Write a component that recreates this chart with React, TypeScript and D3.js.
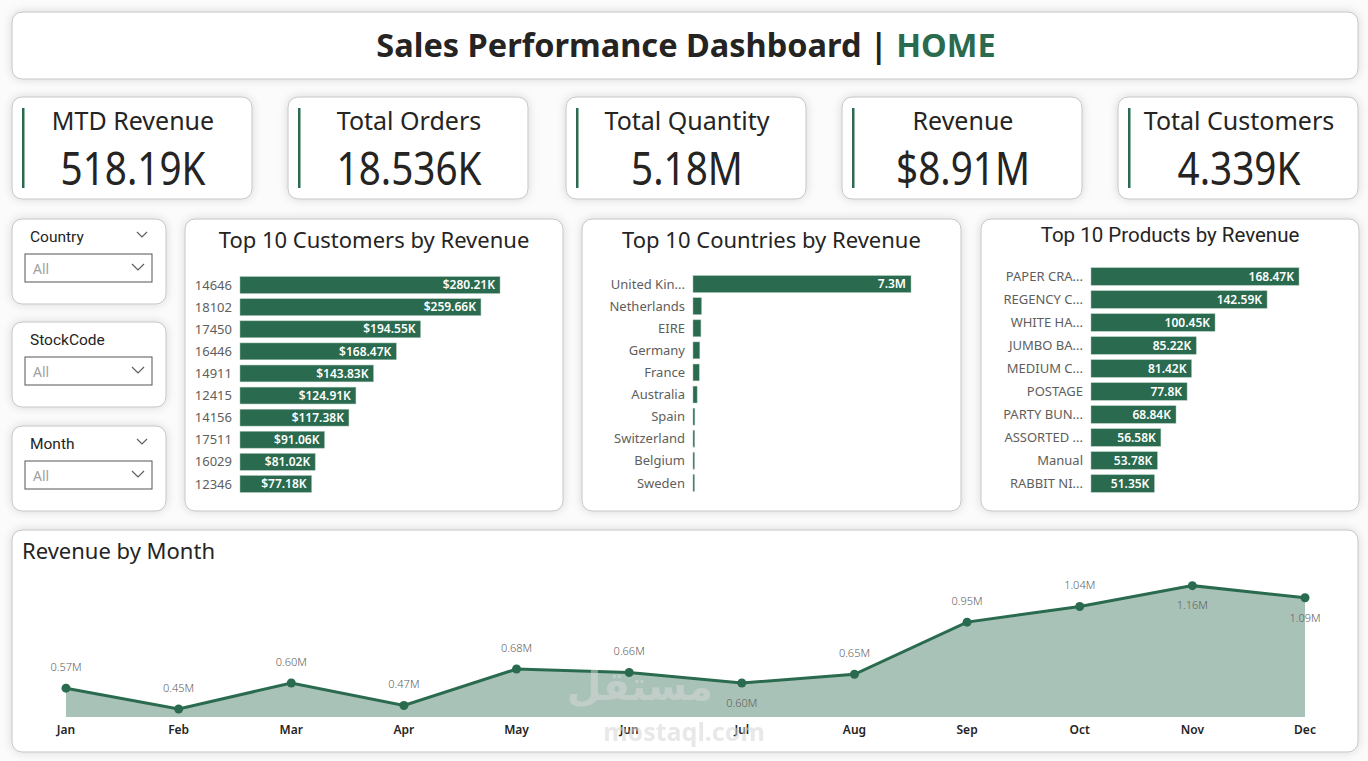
import * as d3 from "d3";

// ---- data ----
const kpiTitles = ["MTD Revenue", "Total Orders", "Total Quantity", "Revenue", "Total Customers"];
const kpiValues = ["518.19K", "18.536K", "5.18M", "$8.91M", "4.339K"];

const slicers = ["Country", "StockCode", "Month"];

const customerIds = ["14646", "18102", "17450", "16446", "14911", "12415", "14156", "17511", "16029", "12346"];
const customerRevenue = [280.21, 259.66, 194.55, 168.47, 143.83, 124.91, 117.38, 91.06, 81.02, 77.18]; // K

const countryNames = ["United Kin...", "Netherlands", "EIRE", "Germany", "France", "Australia", "Spain", "Switzerland", "Belgium", "Sweden"];
const countryRevenue = [7.31, 0.285, 0.265, 0.228, 0.209, 0.138, 0.061, 0.057, 0.041, 0.038]; // M

const productNames = ["PAPER CRA...", "REGENCY C...", "WHITE HA...", "JUMBO BA...", "MEDIUM C...", "POSTAGE", "PARTY BUN...", "ASSORTED ...", "Manual", "RABBIT NI..."];
const productRevenue = [168.47, 142.59, 100.45, 85.22, 81.42, 77.8, 68.84, 56.58, 53.78, 51.35]; // K

const months = ["Jan", "Feb", "Mar", "Apr", "May", "Jun", "Jul", "Aug", "Sep", "Oct", "Nov", "Dec"];
const monthRevenue = [0.57, 0.45, 0.6, 0.47, 0.68, 0.66, 0.6, 0.65, 0.95, 1.04, 1.16, 1.09]; // M
const labelsBelow = new Set(["Jul", "Nov", "Dec"]);

const GREEN = "#2a6b4f";
const TEXT = "#252423";
const GREY = "#605e5c";
const FONT = "'Noto Sans', 'Open Sans', sans-serif";
const DIN = "Roboto, 'Noto Sans', sans-serif";

function Card({ x, y, w, h }: { x: number; y: number; w: number; h: number }) {
  return (
    <rect x={x} y={y} width={w} height={h} rx={10} fill="#fff" stroke="#c4c4c4" strokeWidth={1} filter="url(#shadow)" />
  );
}

function BarChart(props: {
  x: number; y: number; w: number; h: number; title: string; titleFont: string; titleSize: number; titleY: number;
  names: string[]; values: number[]; fmt: (v: number) => string;
  barX0: number; barX1: number; bandTop: number; bandBottom: number;
}) {
  const { names, values } = props;
  const xs = d3.scaleLinear().domain([0, d3.max(values) ?? 1]).range([props.barX0, props.barX1]);
  const ys = d3.scaleBand<string>().domain(names).range([props.bandTop, props.bandBottom]).paddingInner(0.24).paddingOuter(0.12);
  return (
    <g>
      <Card x={props.x} y={props.y} w={props.w} h={props.h} />
      <text x={props.x + props.w / 2} y={props.titleY} textAnchor="middle" fontFamily={props.titleFont} fontSize={props.titleSize} fill={TEXT}>
        {props.title}
      </text>
      {names.map((n, i) => {
        const by = ys(n) ?? 0;
        const bw = Math.max(1.5, xs(values[i]) - props.barX0);
        return (
          <g key={n}>
            <text x={props.barX0 - 8} y={by + ys.bandwidth() / 2} dy="0.35em" textAnchor="end" fontFamily={FONT} fontSize={13} fill={GREY}>
              {n}
            </text>
            <rect x={props.barX0} y={by} width={bw} height={ys.bandwidth()} fill={GREEN} stroke="#9fbcae" strokeWidth={0.5} />
            {bw > 40 && (
              <text x={props.barX0 + bw - 5} y={by + ys.bandwidth() / 2} dy="0.35em" textAnchor="end" fontFamily={FONT} fontWeight={600} fontSize={12} fill="#fff">
                {props.fmt(values[i])}
              </text>
            )}
          </g>
        );
      })}
    </g>
  );
}

function LineChart() {
  const x = d3.scalePoint<string>().domain(months).range([66, 1305]);
  const y = d3.scaleLinear().domain([0.404, 1.25]).range([717, 570]);
  const area = d3.area<number>().x((_, i) => x(months[i]) ?? 0).y0(717).y1((d) => y(d));
  const line = d3.line<number>().x((_, i) => x(months[i]) ?? 0).y((d) => y(d));
  return (
    <g>
      <Card x={12} y={530} w={1346} h={222} />
      <text x={22} y={559} fontFamily={FONT} fontSize={22} fill={TEXT}>Revenue by Month</text>
      <path d={area(monthRevenue) ?? ""} fill="#a9c2b7" />
      <path d={line(monthRevenue) ?? ""} fill="none" stroke={GREEN} strokeWidth={3} />
      {monthRevenue.map((v, i) => {
        const cx = x(months[i]) ?? 0;
        const cy = y(v);
        const below = labelsBelow.has(months[i]);
        return (
          <g key={months[i]}>
            <circle cx={cx} cy={cy} r={4.5} fill={GREEN} />
            <text x={cx} y={below ? cy + 20 : cy - 21} dy="0.35em" textAnchor="middle" fontFamily={FONT} fontWeight={300} fontSize={11} fill={GREY}>
              {v.toFixed(2)}M
            </text>
            <text x={cx} y={730} dy="0.35em" textAnchor="middle" fontFamily={FONT} fontWeight={600} fontSize={12} fill={TEXT}>
              {months[i]}
            </text>
          </g>
        );
      })}
      {/* watermark */}
      <text x={640} y={700} textAnchor="middle" fontFamily="'DejaVu Sans'" fontWeight="bold" fontSize={40} fill="#d9d9d9" opacity={0.5}>مستقل</text>
      <text x={684} y={741} textAnchor="middle" fontFamily={FONT} fontWeight="bold" fontSize={25} fill="#d6d6d6" opacity={0.55}>mostaql.com</text>
    </g>
  );
}

export default function App() {
  const kpiX = [12, 288, 566, 842, 1118];
  const slicerY = [219, 322, 426];
  return (
    <div style={{ position: "fixed", left: 0, top: 0 }}>
      <svg width={1368} height={761} viewBox="0 0 1368 761" style={{ display: "block", background: "#fbfbfb" }}>
        <defs>
          <filter id="shadow" x="-10%" y="-15%" width="120%" height="130%">
            <feDropShadow dx={0} dy={0} stdDeviation={5} floodColor="#000" floodOpacity={0.14} />
          </filter>
        </defs>

        {/* header */}
        <Card x={12} y={12} w={1346} h={67} />
        <text x={686} y={46} dy="0.35em" textAnchor="middle" fontFamily={FONT} fontWeight="bold" fontSize={32.5} fill={TEXT}>
          Sales Performance Dashboard | <tspan fill={GREEN}>HOME</tspan>
        </text>

        {/* KPI cards */}
        {kpiTitles.map((t, i) => (
          <g key={t}>
            <Card x={kpiX[i]} y={97} w={240} h={102} />
            <rect x={kpiX[i] + 10} y={108} width={2.5} height={80} fill={GREEN} />
            <text x={kpiX[i] + 121} y={121} dy="0.35em" textAnchor="middle" fontFamily={FONT} fontSize={25} fill={TEXT}>{t}</text>
            <text transform={`translate(${kpiX[i] + 121},169) scale(0.86,1)`} dy="0.36em" textAnchor="middle" fontFamily={FONT} fontSize={45} fill={TEXT}>
              {kpiValues[i]}
            </text>
          </g>
        ))}

        {/* slicers */}
        {slicers.map((s, i) => {
          const y0 = slicerY[i];
          return (
            <g key={s}>
              <Card x={12} y={y0} w={154} h={85} />
              <text x={30} y={y0 + 18} dy="0.35em" fontFamily={DIN} fontSize={15.5} fill={TEXT}>{s}</text>
              {s !== "StockCode" && (
                <path d={`M${137},${y0 + 13} l5,5 l5,-5`} fill="none" stroke={GREY} strokeWidth={1.2} />
              )}
              <rect x={25} y={y0 + 35} width={127} height={28} fill="#fff" stroke="#555" strokeWidth={1} />
              <text x={33} y={y0 + 50} dy="0.35em" fontFamily={FONT} fontSize={14} fill="#a0a0a0">All</text>
              <path d={`M${132},${y0 + 45} l6,6 l6,-6`} fill="none" stroke={GREY} strokeWidth={1.2} />
            </g>
          );
        })}

        <BarChart x={185} y={219} w={378} h={292} title="Top 10 Customers by Revenue" titleFont={FONT} titleSize={22} titleY={248}
          names={customerIds} values={customerRevenue} fmt={(v) => `$${v}K`}
          barX0={240} barX1={500} bandTop={274} bandBottom={495} />
        <BarChart x={582} y={219} w={379} h={292} title="Top 10 Countries by Revenue" titleFont={FONT} titleSize={22} titleY={248}
          names={countryNames} values={countryRevenue} fmt={(v) => `${v.toFixed(1)}M`}
          barX0={693} barX1={911} bandTop={273} bandBottom={494} />
        <BarChart x={981} y={219} w={378} h={292} title="Top 10 Products by Revenue" titleFont={DIN} titleSize={20.5} titleY={242}
          names={productNames} values={productRevenue} fmt={(v) => `${v}K`}
          barX0={1091} barX1={1299} bandTop={265} bandBottom={495} />

        <LineChart />
      </svg>
    </div>
  );
}
